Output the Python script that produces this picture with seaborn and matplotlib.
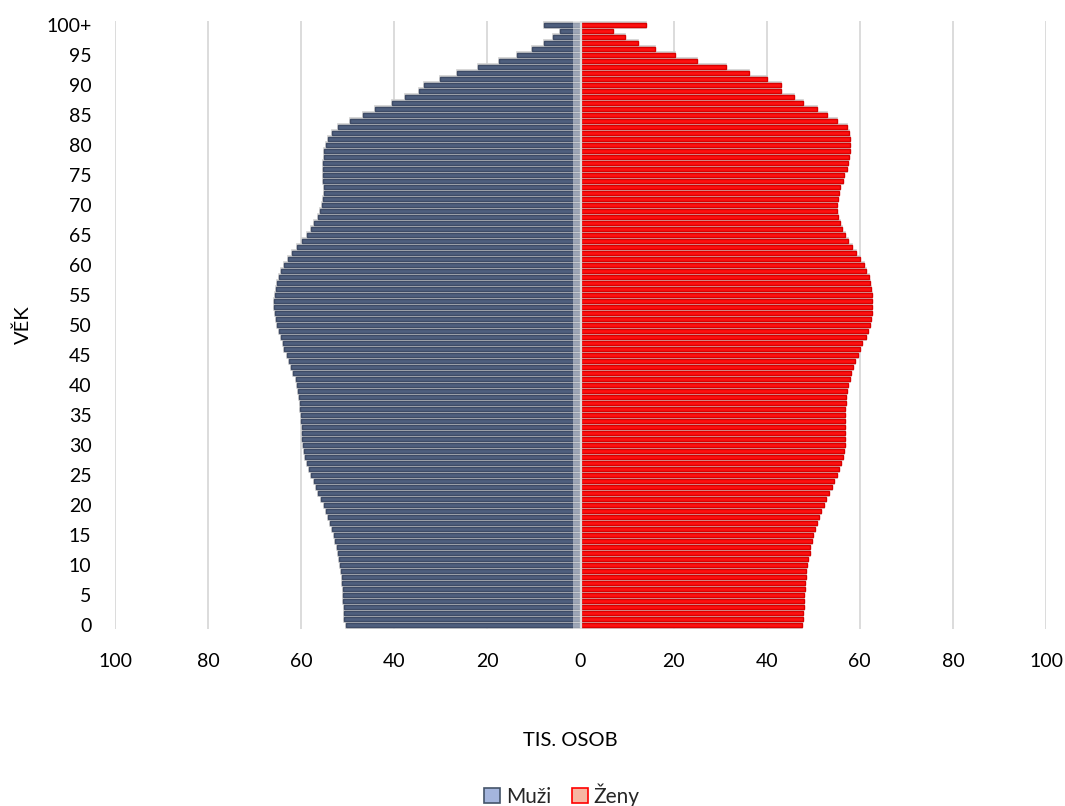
import numpy as np
import pandas as pd
import seaborn as sns
import matplotlib
matplotlib.use("Agg")
import matplotlib.pyplot as plt
from matplotlib.patches import Patch

# věk 0..100+ (tis. osob)
ages = list(range(0, 101))

muzi = [
    50.4, 50.7, 50.8, 50.9, 51.0, 51.0, 51.1, 51.2, 51.3, 51.5,
    51.6, 51.9, 52.1, 52.4, 52.7, 53.0, 53.4, 53.9, 54.2, 54.7,
    55.2, 55.7, 56.3, 56.85, 57.35, 58.0, 58.4, 58.8, 59.2, 59.5,
    59.6, 59.8, 59.8, 59.9, 60.0, 60.1, 60.2, 60.3, 60.4, 60.6,
    60.9, 61.2, 61.7, 62.1, 62.6, 63.1, 63.6, 64.0, 64.4, 64.85,
    65.2, 65.5, 65.7, 65.8, 65.8, 65.7, 65.5, 65.2, 64.8, 64.4,
    63.7, 62.9, 62.0, 61.0, 59.9, 58.8, 58.0, 57.2, 56.4, 55.9,
    55.6, 55.3, 55.1, 55.1, 55.3, 55.3, 55.4, 55.3, 55.2, 55.0,
    54.6, 54.3, 53.4, 52.0, 49.5, 46.7, 44.1, 40.5, 37.8, 34.6,
    33.7, 30.1, 26.6, 22.1, 17.5, 13.7, 10.5, 7.9, 5.9, 4.3,
    7.9,
]

zeny = [
    47.5, 47.7, 47.9, 48.0, 48.1, 48.1, 48.2, 48.3, 48.4, 48.5,
    48.7, 48.9, 49.2, 49.4, 49.7, 50.0, 50.3, 50.8, 51.2, 51.7,
    52.3, 52.8, 53.3, 54.0, 54.55, 55.0, 55.6, 56.0, 56.4, 56.6,
    56.8, 56.9, 56.9, 56.9, 56.9, 56.9, 56.9, 57.0, 57.1, 57.2,
    57.5, 57.8, 58.1, 58.6, 59.0, 59.6, 60.0, 60.5, 61.3, 61.7,
    62.2, 62.4, 62.6, 62.7, 62.7, 62.6, 62.4, 62.2, 61.9, 61.4,
    60.8, 60.1, 59.2, 58.3, 57.4, 56.8, 56.2, 55.7, 55.4, 55.2,
    55.2, 55.3, 55.5, 55.8, 56.3, 56.7, 57.2, 57.4, 57.6, 57.8,
    57.9, 57.9, 57.7, 57.2, 55.2, 53.0, 50.9, 47.9, 45.9, 43.1,
    43.0, 40.0, 36.3, 31.3, 25.1, 20.3, 16.0, 12.4, 9.6, 6.9,
    14.1,
]

x_ticks = [-100, -80, -60, -40, -20, 0, 20, 40, 60, 80, 100]
y_ticks = list(range(0, 101, 5))
y_labels = [str(a) for a in y_ticks[:-1]] + ["100+"]

df = pd.DataFrame({"vek": ages, "muzi": [-v for v in muzi], "zeny": zeny})

sns.set_theme(style="white")
plt.rcParams["font.family"] = ["Lato", "DejaVu Sans"]

fig, ax = plt.subplots(figsize=(10.65, 8.06), dpi=100)
fig.subplots_adjust(left=115 / 1065, right=1046 / 1065,
                    top=1 - 21 / 806, bottom=1 - 629 / 806)

# stín pod pruhy
for col in ["muzi", "zeny"]:
    sns.barplot(data=df, x=col, y="vek", orient="h", native_scale=True,
                width=1.0, color="#c4c4c4", saturation=1,
                edgecolor="#cfcfcf", linewidth=1.2, ax=ax, zorder=2)

sns.barplot(data=df, x="muzi", y="vek", orient="h", native_scale=True,
            width=0.62, color="#4f5f7e", saturation=1,
            edgecolor="#3e4b66", linewidth=1.0, ax=ax, zorder=3)
sns.barplot(data=df, x="zeny", y="vek", orient="h", native_scale=True,
            width=0.62, color="#ff1010", saturation=1,
            edgecolor="#d80000", linewidth=1.0, ax=ax, zorder=3)

ax.axvspan(-1.6, 0, color="white", alpha=0.45, lw=0, zorder=4)
ax.axvline(0, color="#dcdcdc", lw=1.6, zorder=5)

ax.set_xlim(-100, 100)
ax.set_ylim(-0.67, 100.67)
ax.set_xticks(x_ticks)
ax.set_xticklabels([str(abs(t)) for t in x_ticks])
ax.set_yticks(y_ticks)
ax.set_yticklabels(y_labels)
ax.tick_params(axis="x", length=0, pad=17, labelsize=14, colors="#000000")
ax.tick_params(axis="y", length=0, pad=17, labelsize=14, colors="#000000")

ax.grid(axis="x", color="#d9d9d9", lw=1.3, zorder=0)
ax.grid(axis="y", visible=False)
ax.set_axisbelow(True)
sns.despine(ax=ax, left=True, bottom=True)
ax.set_xlabel("")
ax.set_ylabel("")

fig.text(570 / 1065, 1 - 740 / 806, "TIS. OSOB", ha="center", va="center",
         fontsize=14.5, color="#000000")
fig.text(23 / 1065, 1 - 325 / 806, "VĚK", ha="center", va="center",
         rotation=90, fontsize=14.5, color="#000000")

handles = [Patch(facecolor="#a4b5dd", edgecolor="#44546a", lw=1.2, label="Muži"),
           Patch(facecolor="#f6b7a2", edgecolor="#ff0000", lw=1.2, label="Ženy")]
fig.legend(handles=handles, loc="center", bbox_to_anchor=(562 / 1065, 1 - 795 / 806),
           ncol=2, frameon=False, fontsize=15, handlelength=0.75, handleheight=0.75,
           handletextpad=0.3, columnspacing=1.0)

fig.savefig("out.png", dpi=100)
